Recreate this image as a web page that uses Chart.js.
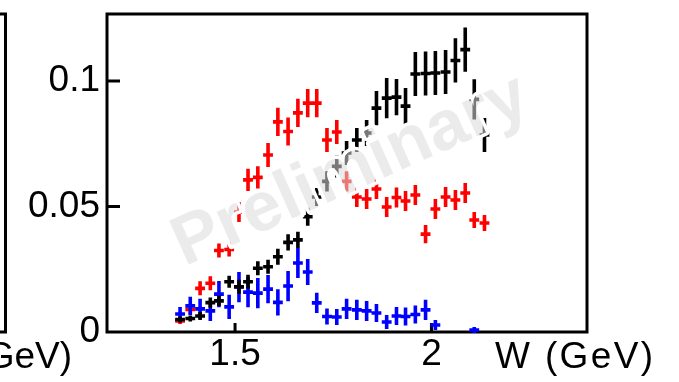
<!DOCTYPE html>
<html>
<head>
<meta charset="utf-8">
<title>W spectrum</title>
<script src="https://cdn.jsdelivr.net/npm/chart.js@4.4.1/dist/chart.umd.min.js"></script>
<style>
html, body { margin: 0; padding: 0; background: #fff; overflow: hidden; }
#wrap { position: relative; width: 679px; height: 382px; }
#overlay { position: absolute; left: 0; top: 0; pointer-events: none; }
#overlay text { font-family: 'Liberation Sans', Arial, sans-serif; }
</style>
</head>
<body>
<div id="wrap">
	<canvas id="myChart" width="679" height="382"></canvas>
	<svg id="overlay" width="679" height="382" xmlns:xlink="http://www.w3.org/1999/xlink">
		<defs>
			<text id="wm" transform="translate(349,167) rotate(-24)" text-anchor="middle" dominant-baseline="central"
				font-size="70" font-weight="bold">Preliminary</text>
			<!-- white halo only outside the letters -->
			<mask id="fuori" maskUnits="userSpaceOnUse" x="0" y="0" width="679" height="382">
				<rect width="679" height="382" fill="#fff"/>
				<use href="#wm" fill="#000"/>
			</mask>
		</defs>
		<!-- edge of the neighbouring panel -->
		<path d="M0 14 H5.5 V332 H0" fill="none" stroke="#000" stroke-width="3"/>
		<text x="72" y="368" text-anchor="end" font-size="37" fill="#000">GeV)</text>
		<text x="495" y="368" font-size="37" fill="#000" textLength="158" lengthAdjust="spacing">W (GeV)</text>
		<use href="#wm" fill="none" stroke="#fff" stroke-width="7" stroke-linejoin="round" mask="url(#fuori)"/>
		<use href="#wm" fill="rgba(218,218,218,0.55)"/>
	</svg>
</div>
<script>
// W bin centres (GeV)
var wBins = [1.360, 1.386, 1.411, 1.437, 1.459, 1.485, 1.510, 1.533, 1.558, 1.584,
	1.609, 1.635, 1.660, 1.685, 1.708, 1.734, 1.759, 1.784, 1.810, 1.835,
	1.860, 1.886, 1.911, 1.934, 1.959, 1.985, 2.010, 2.036, 2.061, 2.086,
	2.109, 2.135];
var binHalf = 0.0125;

var yBlack = [0.0050, 0.0054, 0.0064, 0.0117, 0.0124, 0.0200, 0.0180, 0.0200, 0.0254, 0.0260,
	0.0300, 0.0357, 0.0367, 0.0459, 0.0538, 0.0600, 0.0660, 0.0713, 0.0765, 0.0793,
	0.0892, 0.0932, 0.0936, 0.0900, 0.1028, 0.1030, 0.1032, 0.1036, 0.1082, 0.1125,
	0.0927, 0.0785];
var errBlack = [0.0012, 0.0012, 0.0016, 0.0020, 0.0020, 0.0024, 0.0028, 0.0028, 0.0028, 0.0028,
	0.0032, 0.0032, 0.0032, 0.0036, 0.0036, 0.0040, 0.0044, 0.0048, 0.0048, 0.0052,
	0.0068, 0.0080, 0.0072, 0.0072, 0.0088, 0.0088, 0.0088, 0.0088, 0.0088, 0.0088,
	0.0080, 0.0068];

var yRed = [0.0044, 0.0090, 0.0174, 0.0194, 0.0325, 0.0329, 0.0478, 0.0606, 0.0616, 0.0705,
	0.0837, 0.0799, 0.0873, 0.0912, 0.0912, 0.0765, 0.0797, 0.0600, 0.0538, 0.0530,
	0.0570, 0.0498, 0.0536, 0.0522, 0.0546, 0.0390, 0.0490, 0.0538, 0.0526, 0.0554,
	0.0446, 0.0434];
var errRed = [0.0012, 0.0020, 0.0028, 0.0028, 0.0028, 0.0028, 0.0040, 0.0044, 0.0044, 0.0048,
	0.0056, 0.0056, 0.0056, 0.0056, 0.0056, 0.0048, 0.0048, 0.0040, 0.0040, 0.0040,
	0.0040, 0.0040, 0.0040, 0.0040, 0.0040, 0.0036, 0.0040, 0.0040, 0.0040, 0.0040,
	0.0032, 0.0032];

var yBlue = [0.0072, 0.0104, 0.0092, 0.0084, 0.0151, 0.0100, 0.0179, 0.0159, 0.0155, 0.0171,
	0.0118, 0.0183, 0.0275, 0.0239, 0.0116, 0.0062, 0.0060, 0.0092, 0.0088, 0.0084,
	0.0076, 0.0040, 0.0064, 0.0062, 0.0070, 0.0088, 0.0028, null, null, null,
	0.0008, null];
var errBlue = [0.0028, 0.0036, 0.0040, 0.0040, 0.0052, 0.0048, 0.0060, 0.0060, 0.0060, 0.0056,
	0.0052, 0.0060, 0.0060, 0.0052, 0.0040, 0.0032, 0.0032, 0.0040, 0.0040, 0.0040,
	0.0036, 0.0028, 0.0036, 0.0036, 0.0036, 0.0040, 0.0020, null, null, null,
	0.0012, null];

var xTickValues = [1.5, 2];
var xTickLabels = ["1.5", "2"];
var yTickValues = [0, 0.05, 0.1];
var yTickLabels = ["0", "0.05", "0.1"];

function punti(ys, errs) {
	var out = [];
	for (var i = 0; i < wBins.length; i++) {
		if (ys[i] == null) continue;
		out.push({ x : wBins[i], y : ys[i], err : errs[i] });
	}
	return out;
}

// crosses: bin width horizontally, statistical error vertically
var errorBars = {
	id : 'errorBars',
	afterDatasetDraw : function(chart, args) {
		var ds = chart.data.datasets[args.index];
		var xs = chart.scales.x, ys = chart.scales.y, ctx = chart.ctx;
		ctx.save();
		ctx.strokeStyle = ds.borderColor;
		ctx.lineWidth = 3.6;
		ctx.beginPath();
		ds.data.forEach(function(p) {
			var px = xs.getPixelForValue(p.x);
			var py = ys.getPixelForValue(p.y);
			ctx.moveTo(px, ys.getPixelForValue(p.y + p.err));
			ctx.lineTo(px, ys.getPixelForValue(p.y - p.err));
			ctx.moveTo(xs.getPixelForValue(p.x - binHalf), py);
			ctx.lineTo(xs.getPixelForValue(p.x + binHalf), py);
		});
		ctx.stroke();
		ctx.restore();
	}
};

// box round the plot with inward ticks
var cornice = {
	id : 'cornice',
	beforeDatasetsDraw : function(chart) {
		var a = chart.chartArea, ctx = chart.ctx;
		ctx.save();
		ctx.strokeStyle = '#000';
		ctx.lineWidth = 3;
		ctx.strokeRect(a.left, a.top, a.right - a.left, a.bottom - a.top);
		ctx.beginPath();
		chart.scales.y.ticks.forEach(function(t) {
			var py = chart.scales.y.getPixelForValue(t.value);
			if (py >= a.bottom - 1) return;
			ctx.moveTo(a.left, py);
			ctx.lineTo(a.left + 13, py);
		});
		chart.scales.x.ticks.forEach(function(t) {
			var px = chart.scales.x.getPixelForValue(t.value);
			ctx.moveTo(px, a.bottom);
			ctx.lineTo(px, a.bottom - 9);
		});
		ctx.stroke();
		ctx.restore();
	}
};

Chart.defaults.font.family = "'Liberation Sans', Arial, sans-serif";
Chart.defaults.color = '#000';

var ctx = document.getElementById("myChart").getContext('2d');
var myChart = new Chart(ctx, {
	type : 'scatter',
	data : {
		datasets : [ {
			label : 'black',
			data : punti(yBlack, errBlack),
			borderColor : '#000000',
			backgroundColor : '#000000',
			pointRadius : 0
		}, {
			label : 'blue',
			data : punti(yBlue, errBlue),
			borderColor : '#0000ff',
			backgroundColor : '#0000ff',
			pointRadius : 0
		}, {
			label : 'red',
			data : punti(yRed, errRed),
			borderColor : '#ff0000',
			backgroundColor : '#ff0000',
			pointRadius : 0
		} ]
	},
	options : {
		responsive : false,
		devicePixelRatio : 1,
		animation : false,
		layout : {
			padding : { top : 14, right : 92, left : 0, bottom : 0 }
		},
		plugins : {
			legend : { display : false },
			tooltip : { enabled : false }
		},
		scales : {
			x : {
				type : 'linear',
				min : 1.174,
				max : 2.396,
				grid : { display : false, drawTicks : false },
				border : { display : false },
				afterBuildTicks : function(scale) {
					scale.ticks = xTickValues.map(function(v) { return { value : v }; });
				},
				afterFit : function(scale) {
					scale.height = 50;
					scale.paddingLeft = 0;
					scale.paddingRight = 0;
				},
				ticks : {
					padding : 1,
					maxRotation : 0,
					font : { size : 37 },
					callback : function(v) {
						return xTickLabels[xTickValues.indexOf(v)];
					}
				}
			},
			y : {
				min : 0,
				max : 0.1267,
				grid : { display : false, drawTicks : false },
				border : { display : false },
				afterBuildTicks : function(scale) {
					scale.ticks = yTickValues.map(function(v) { return { value : v }; });
				},
				afterFit : function(scale) {
					scale.width = 107;
					scale.paddingTop = 0;
					scale.paddingBottom = 0;
				},
				ticks : {
					padding : 7,
					font : { size : 37 },
					callback : function(v) {
						return yTickLabels[yTickValues.indexOf(v)];
					}
				}
			}
		}
	},
	plugins : [ cornice, errorBars ]
});
</script>
</body>
</html>
